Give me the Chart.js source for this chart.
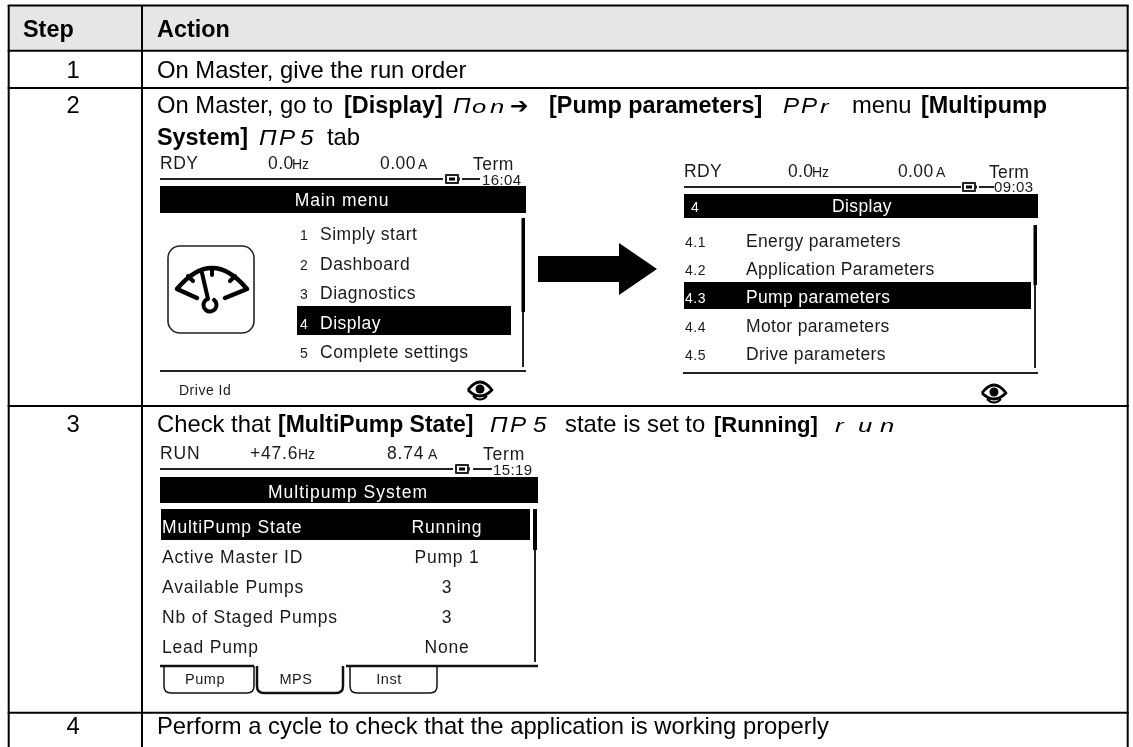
<!DOCTYPE html>
<html><head><meta charset="utf-8">
<style>html,body{margin:0;padding:0;background:#fff}canvas{display:block}</style>
<script src="https://cdn.jsdelivr.net/npm/chart.js@4"></script>
</head><body><canvas id="c" width="1133" height="747"></canvas>
<script>
// table content
const headers = ["Step", "Action"];
const steps = ["1", "2", "3", "4"];
const row1Text = "On Master, give the run order";
const row2Line1 = ["On Master, go to ", "[Display]", "Π", "o", "n", "➔", "[Pump parameters]", "P", "P", "r", "menu", "[Multipump"];
const row2Line2 = ["System]", "Π", "P", "5", "tab"];
const row3Line = ["Check that ", "[MultiPump State]", "Π", "P", "5", "state is set to", "[Running]", "r", "u", "n"];
const row4Text = "Perform a cycle to check that the application is working properly";
const mainMenuItems = ["Simply start", "Dashboard", "Diagnostics", "Display", "Complete settings"];
const mainMenuNums = ["1", "2", "3", "4", "5"];
const displayItems = ["Energy parameters", "Application Parameters", "Pump parameters", "Motor parameters", "Drive parameters"];
const displayNums = ["4.1", "4.2", "4.3", "4.4", "4.5"];
const mpsNames = ["MultiPump State", "Active Master ID", "Available Pumps", "Nb of Staged Pumps", "Lead Pump"];
const mpsValues = ["Running", "Pump 1", "3", "3", "None"];
const tabs = ["Pump", "MPS", "Inst"];

// layout (page units)
const rowRules = [5.5, 50.7, 88, 406, 712.7];
const colRules = [8.7, 142, 1127.7];
const SANS = '"Liberation Sans", Arial, sans-serif';

const ruleSets = [
  ...rowRules.map(y => [{x: colRules[0] - 1, y}, {x: colRules[2] + 1, y}]),
  ...colRules.map(x => [{x, y: rowRules[0]}, {x, y: 747}])
];

const tablePlugin = {
  id: 'tablePlugin',
  beforeDatasetsDraw(chart) {
    const c = chart.ctx, X = v => chart.scales.x.getPixelForValue(v), Y = v => chart.scales.y.getPixelForValue(v);
    c.save(); c.fillStyle = '#e6e6e6';
    c.fillRect(X(colRules[0]), Y(rowRules[0]), X(colRules[2]) - X(colRules[0]), Y(rowRules[1]) - Y(rowRules[0]));
    c.restore();
  },
  afterDatasetsDraw(chart) {
    const c = chart.ctx, X = v => chart.scales.x.getPixelForValue(v), Y = v => chart.scales.y.getPixelForValue(v);
    c.save();
    const T = (s, x, y, o = {}) => {
      c.font = `${o.style || ''} ${o.size || 23.8}px ${o.family || SANS}`;
      c.fillStyle = o.color || '#000';
      c.textAlign = o.align || 'left';
      c.textBaseline = 'alphabetic';
      c.letterSpacing = (o.ls || 0) + 'px';
      if (o.hs) {
        c.save(); c.translate(X(x), Y(y)); c.scale(o.hs, 1); c.fillText(s, 0, 0); c.restore();
      } else c.fillText(s, X(x), Y(y));
    };
    const B = {style: 'bold', size: 23.4};
    const SEG = {style: 'italic', size: 22, hs: 1.1};
    const SEGL = {style: 'italic', size: 19, hs: 1.35};
    const Rect = (x0, y0, x1, y1, col = '#000') => { c.fillStyle = col; c.fillRect(X(x0), Y(y0), X(x1) - X(x0), Y(y1) - Y(y0)); };
    const Line = (pts, w = 2, col = '#222') => {
      c.beginPath(); pts.forEach((p, i) => i ? c.lineTo(X(p[0]), Y(p[1])) : c.moveTo(X(p[0]), Y(p[1])));
      c.lineWidth = w; c.strokeStyle = col; c.lineJoin = 'round'; c.lineCap = 'butt'; c.stroke();
    };
    const lcd = ls => ({size: 17.5, ls, color: '#1a1a1a'});
    const LCD1 = lcd(0.5), LCD2 = lcd(0.35), LCD3 = lcd(0.8);
    const SMALL = {size: 14, ls: 0.5, color: '#1a1a1a'};
    const UNIT = {size: 14, color: '#1a1a1a'};
    const Bat = (x, y) => { c.lineWidth = 2; c.strokeStyle = '#222'; c.strokeRect(X(x), Y(y - 4), 12, 8); Rect(x + 3, y - 1.5, x + 9, y + 1.5); Rect(x + 12, y - 1.5, x + 14, y + 1.5, '#222'); };
    const Eye = (x, y) => {
      c.beginPath(); c.moveTo(X(x - 12), Y(y));
      c.quadraticCurveTo(X(x), Y(y - 16), X(x + 12), Y(y));
      c.quadraticCurveTo(X(x), Y(y + 12), X(x - 12), Y(y));
      c.lineWidth = 2.8; c.strokeStyle = '#000'; c.stroke();
      c.beginPath(); c.arc(X(x), Y(y - 1), 4.5, 0, 7); c.fillStyle = '#000'; c.fill();
      c.beginPath(); c.moveTo(X(x - 7), Y(y + 6)); c.quadraticCurveTo(X(x), Y(y + 13), X(x + 7), Y(y + 6));
      c.lineWidth = 2; c.stroke();
    };
    // headers and step numbers
    T(headers[0], 23, 36.7, B); T(headers[1], 157, 36.7, B);
    [78, 112.5, 431.5, 734].forEach((y, i) => T(steps[i], 73, y, {align: 'center'}));
    T(row1Text, 157, 78);
    // row 2 text
    const L1 = 112.5;
    T(row2Line1[0], 157, L1); T(row2Line1[1], 344, L1, B);
    T(row2Line1[2], 453, L1, SEG); T(row2Line1[3], 472, L1, SEGL); T(row2Line1[4], 490, L1, SEGL);
    T(row2Line1[5], 510, L1, {size: 22, family: '"DejaVu Sans", sans-serif'});
    T(row2Line1[6], 549, L1, B);
    T(row2Line1[7], 783, L1, SEG); T(row2Line1[8], 801, L1, SEG); T(row2Line1[9], 820, L1, SEGL);
    T(row2Line1[10], 852, L1); T(row2Line1[11], 921, L1, B);
    const L2 = 145;
    T(row2Line2[0], 157, L2, B); T(row2Line2[1], 259, L2, SEG); T(row2Line2[2], 279, L2, SEG); T(row2Line2[3], 300, L2, SEG); T(row2Line2[4], 327, L2);
    // screen 1
    T("RDY", 160, 169, LCD1); T("0.0", 268, 169, LCD1); T("Hz", 292, 169, UNIT); T("0.00", 380, 169, LCD1); T("A", 418, 169, UNIT);
    T("Term", 473, 170, LCD1); T("16:04", 482, 185, {size: 15, ls: .4, color: '#1a1a1a'});
    Line([[160, 179], [443, 179]]); Bat(446, 179); Line([[462, 179], [480, 179]]);
    Rect(160, 186, 526, 213);
    T("Main menu", 342, 206, {...lcd(0.9), align: 'center', color: '#fff'});
    [240, 270, 299, 329, 358].forEach((y, i) => {
      if (i === 3) Rect(297, 306, 511, 335);
      const col = i === 3 ? '#fff' : '#1a1a1a';
      T(mainMenuNums[i], 300, y, {...SMALL, color: col}); T(mainMenuItems[i], 320, y, {...LCD1, color: col});
    });
    Rect(521.5, 218, 525, 312); Rect(522, 312, 524, 367, '#222');
    Line([[160, 371], [526, 371]]);
    T("Drive Id", 179, 395, SMALL); Eye(480, 390);
    // gauge icon
    c.beginPath(); c.roundRect(X(168), Y(246), 86, 87, 12); c.lineWidth = 1.6; c.strokeStyle = '#222'; c.stroke();
    c.lineCap = 'round'; c.lineJoin = 'round';
    const G = (pts, w = 4) => { c.beginPath(); pts.forEach((p, i) => i ? c.lineTo(X(p[0]), Y(p[1])) : c.moveTo(X(p[0]), Y(p[1]))); c.lineWidth = w; c.strokeStyle = '#000'; c.stroke(); };
    c.beginPath(); c.moveTo(X(197), Y(298)); c.lineTo(X(177), Y(289));
    c.quadraticCurveTo(X(212), Y(247), X(247), Y(289)); c.lineTo(X(225), Y(298));
    c.lineWidth = 4.5; c.strokeStyle = '#000'; c.stroke();
    G([[188, 276], [193, 281]]); G([[212, 268], [212, 275]]); G([[235, 276], [230, 281]]);
    G([[202, 273], [208, 299]], 4);
    c.beginPath(); c.arc(X(210), Y(305), 6.5, -0.9, Math.PI * 1.3 + 0.2); c.lineWidth = 4; c.stroke();
    // arrow
    c.beginPath();
    [[538, 256], [619, 256], [619, 243], [657, 269], [619, 295], [619, 282], [538, 282]].forEach((p, i) => i ? c.lineTo(X(p[0]), Y(p[1])) : c.moveTo(X(p[0]), Y(p[1])));
    c.closePath(); c.fillStyle = '#000'; c.fill();
    // screen 2
    T("RDY", 684, 177, LCD2); T("0.0", 788, 177, LCD2); T("Hz", 812, 177, UNIT); T("0.00", 898, 177, LCD2); T("A", 936, 177, UNIT);
    T("Term", 989, 178, LCD2); T("09:03", 994, 192, {size: 15, ls: .4, color: '#1a1a1a'});
    Line([[684, 187], [961, 187]]); Bat(963, 187); Line([[979, 187], [994, 187]]);
    Rect(684, 194, 1038, 218);
    T("4", 691, 212, {...SMALL, color: '#fff'}); T("Display", 862, 212, {...LCD2, align: 'center', color: '#fff'});
    [247, 275, 303, 332, 360].forEach((y, i) => {
      if (i === 2) Rect(684, 282, 1031, 309);
      const col = i === 2 ? '#fff' : '#1a1a1a';
      T(displayNums[i], 685, y, {...SMALL, color: col}); T(displayItems[i], 746, y, {...LCD2, color: col});
    });
    Rect(1033.5, 225, 1037, 285); Rect(1034, 285, 1036, 368, '#222');
    Line([[683, 373], [1038, 373]]); Eye(994, 393);
    // row 3 text
    const L3 = 431.5;
    T(row3Line[0], 157, L3); T(row3Line[1], 278, L3, {...B, size: 23});
    T(row3Line[2], 490, L3, SEG); T(row3Line[3], 510, L3, SEG); T(row3Line[4], 533, L3, SEG);
    T(row3Line[5], 565, L3); T(row3Line[6], 714, L3, {...B, size: 22});
    T(row3Line[7], 835, L3, SEGL); T(row3Line[8], 858, L3, SEGL); T(row3Line[9], 880, L3, SEGL);
    // screen 3
    T("RUN", 160, 459, LCD3); T("+47.6", 250, 459, LCD3); T("Hz", 298, 459, UNIT); T("8.74", 387, 459, LCD3); T("A", 428, 459, UNIT);
    T("Term", 483, 460, LCD3); T("15:19", 493, 475, {size: 15, ls: .4, color: '#1a1a1a'});
    Line([[160, 469], [453, 469]]); Bat(456, 469); Line([[473, 469], [492, 469]]);
    Rect(160, 477, 538, 503);
    T("Multipump System", 348, 498, {...lcd(1), align: 'center', color: '#fff'});
    [533, 563, 593, 623, 653].forEach((y, i) => {
      if (i === 0) Rect(161, 509, 530, 540);
      const col = i === 0 ? '#fff' : '#1a1a1a';
      T(mpsNames[i], 162, y, {...LCD3, color: col}); T(mpsValues[i], 447, y, {...LCD3, color: col, align: 'center'});
    });
    Rect(533, 509, 537, 550); Rect(534, 550, 536, 662, '#222');
    // tabs
    Line([[160, 666], [254, 666]], 2.5, '#111'); Line([[346, 666], [538, 666]], 2.5, '#111');
    c.lineCap = 'butt';
    const Tab = (x0, x1, w) => {
      c.beginPath(); c.moveTo(X(x0), Y(666));
      c.lineTo(X(x0), Y(686)); c.quadraticCurveTo(X(x0), Y(693), X(x0 + 7), Y(693));
      c.lineTo(X(x1 - 7), Y(693)); c.quadraticCurveTo(X(x1), Y(693), X(x1), Y(686)); c.lineTo(X(x1), Y(666));
      c.lineWidth = w; c.strokeStyle = '#111'; c.stroke();
    };
    Tab(164, 254, 1.5); Tab(257, 343, 2.5); Tab(350, 437, 1.5);
    [205, 296, 389].forEach((x, i) => T(tabs[i], x, 684, {...SMALL, align: 'center', size: 14.5}));
    // row 4
    T(row4Text, 157, 734);
    c.restore();
  }
};

new Chart(document.getElementById('c'), {
  type: 'scatter',
  data: { datasets: ruleSets.map(data => ({ data, showLine: true, pointRadius: 0, borderColor: '#000', borderWidth: 2, clip: false })) },
  options: {
    responsive: false, animation: false, events: [],
    layout: { padding: 0 },
    plugins: { legend: {display: false}, tooltip: {enabled: false} },
    scales: {
      x: { type: 'linear', min: 0, max: 1133, display: false },
      y: { type: 'linear', min: 0, max: 747, reverse: true, display: false }
    }
  },
  plugins: [tablePlugin]
});
</script></body></html>
